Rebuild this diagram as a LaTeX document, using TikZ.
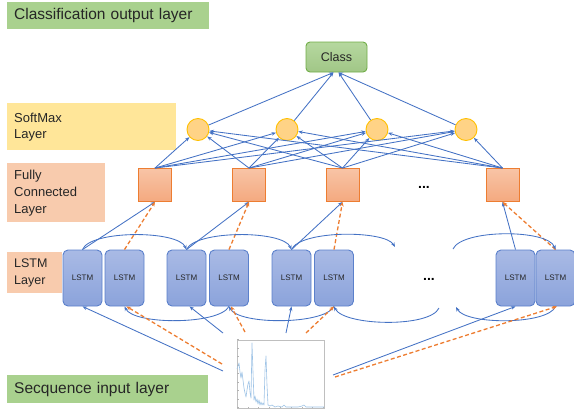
\documentclass[tikz,border=0pt]{standalone}
\usepackage{fontspec}
\setmainfont{Liberation Sans}
\usetikzlibrary{arrows.meta}
\definecolor{lgreen}{HTML}{A9D18E}
\definecolor{dgreen}{HTML}{70AD47}
\definecolor{lyellow}{HTML}{FFE699}
\definecolor{lpeach}{HTML}{F8CBAD}
\definecolor{oline}{HTML}{ED7D31}
\definecolor{bline}{HTML}{4472C4}
\definecolor{cfill}{HTML}{FFD386}
\definecolor{cline}{HTML}{FFC000}
\definecolor{lstmtop}{HTML}{A9BAE5}
\definecolor{lstmbot}{HTML}{8BA3DB}
\definecolor{lstmline}{HTML}{5B80CB}
\definecolor{fctop}{HTML}{F8C4A6}
\definecolor{fcbot}{HTML}{F4A97F}
\definecolor{plotline}{HTML}{9DC3E6}
\tikzset{
  lblbox/.style={anchor=north west, inner xsep=7pt, inner ysep=0pt, align=left, text=black!85},
  lstmbox/.style={draw=lstmline, line width=0.9pt, rounded corners=5pt, top color=lstmtop, bottom color=lstmbot,
     minimum width=39pt, minimum height=56pt, inner sep=0pt, font=\fontsize{8}{9}\selectfont, text=black!85},
  fcbox/.style={draw=oline, line width=0.9pt, top color=fctop, bottom color=fcbot, minimum size=33pt, inner sep=0pt},
  smnode/.style={circle, draw=cline, line width=0.9pt, fill=cfill, minimum size=22pt, inner sep=0pt},
  arr/.style={draw=bline, line width=0.85pt, -{Stealth[length=4.5pt,width=3.5pt]}},
  darr/.style={draw=oline, line width=1.3pt, dash pattern=on 4pt off 2.5pt, -{Stealth[length=4.5pt,width=3.8pt]}},
  dots/.style={font=\bfseries\fontsize{14}{14}\selectfont, inner sep=0pt}
}
\begin{document}
\begin{tikzpicture}[x=1pt,y=-1pt]
\useasboundingbox (0,0) rectangle (574,410);
% layer labels
\node[lblbox, fill=lgreen, minimum height=27pt, text width=188pt, font=\fontsize{15.5}{17}\selectfont] (labout) at (7,2) {Classification output layer};
\node[lblbox, fill=lyellow, minimum height=47pt, text width=155pt, font=\fontsize{13}{16}\selectfont] (labsm) at (7,103) {SoftMax\\Layer};
\node[lblbox, fill=lpeach, minimum height=59pt, text width=84pt, font=\fontsize{13}{17}\selectfont] (labfc) at (7,163) {Fully\\Connected\\Layer};
\node[lblbox, fill=lpeach, minimum height=41pt, text width=41pt, font=\fontsize{12.5}{17}\selectfont] (lablstm) at (7,252) {LSTM\\Layer};
\node[lblbox, fill=lgreen, minimum height=28pt, text width=187pt, font=\fontsize{15.5}{17}\selectfont] (labin) at (7,375) {Secquence input layer};

% class node
\node[draw=dgreen, line width=0.9pt, rounded corners=4pt, top color=lgreen!85!white, bottom color=lgreen!95!black,
      minimum width=61pt, minimum height=30pt, inner sep=0pt, font=\fontsize{12.5}{13}\selectfont, text=black!85] (class) at (336.5,57) {Class};

% softmax
\node[smnode] (s1) at (198,129.5) {};
\node[smnode] (s2) at (287,129.5) {};
\node[smnode] (s3) at (377,129.5) {};
\node[smnode] (s4) at (466,129.5) {};

% fully connected
\node[fcbox] (fc1) at (155,185) {};
\node[fcbox] (fc2) at (249,185) {};
\node[fcbox] (fc3) at (342.5,185) {};
\node[fcbox] (fc4) at (502.5,185) {};
\node[dots] (fcdots) at (424,187) {...};

% LSTM
\node[lstmbox] (l1) at (82.5,278) {LSTM};
\node[lstmbox] (l2) at (124.5,278) {LSTM};
\node[lstmbox] (l3) at (186.5,278) {LSTM};
\node[lstmbox] (l4) at (229,278) {LSTM};
\node[lstmbox] (l5) at (291.5,278) {LSTM};
\node[lstmbox] (l6) at (334,278) {LSTM};
\node[lstmbox] (l7) at (515.5,278) {LSTM};
\node[lstmbox] (l8) at (555.5,278) {LSTM};
\node[dots] (lstmdots) at (429,279) {...};

% input plot
\node[draw=black!25, line width=0.6pt, fill=white, minimum width=87pt, minimum height=68pt, inner sep=0pt] (plot) at (280.5,374) {};
\foreach \t in {0,1,...,8} { \draw[black!30, line width=0.3pt] (237,{407.5-\t*8.5}) -- (238.5,{407.5-\t*8.5}); }
\foreach \t in {0,1,...,8} { \draw[black!30, line width=0.3pt] ({237+\t*10.8},408) -- ({237+\t*10.8},406.5); }
\draw[plotline, line width=0.6pt, line join=round] plot coordinates {
 (237,369) (238,366) (239,363) (240,372) (241,378) (242,372) (243,380) (244,388) (245,393) (246,397)
 (247,390) (248,384) (249,381) (250,392) (251,398) (252,343) (253,372) (254,400) (255,396) (256,402)
 (257,399) (258,404) (259,400) (260,405) (261,402) (262,405) (263,403) (264,405) (265,370) (266,356)
 (267,385) (268,405) (270,406) (272,405) (275,407) (278,406) (282,407) (284,405) (286,407) (292,407)
 (298,407) (302,406) (304,405) (306,407) (324,407)};

% softmax -> class
\draw[arr] (s1) -- ([xshift=-3pt]class.south);
\draw[arr] (s2) -- ([xshift=-3pt]class.south);
\draw[arr] (s3) -- ([xshift=2pt]class.south);
\draw[arr] (s4) -- ([xshift=2pt]class.south);

% fc -> softmax
\foreach \i in {1,2,3,4} {
  \foreach \j in {1,2,3,4} {
    \draw[arr] (fc\i.north) -- (s\j);
  }
}

% lstm -> fc
\draw[arr] (l1.north) -- (fc1.south);
\draw[darr] (l2.north) -- (fc1.south);
\draw[arr] (l3.north) -- (fc2.south);
\draw[darr] (l4.north) -- (fc2.south);
\draw[arr] (l5.north) -- (fc3.south);
\draw[darr] (l6.north) -- (fc3.south);
\draw[arr] (l7.north) -- (fc4.south);
\draw[darr] (l8.north) -- (fc4.south);

% forward arcs (top)
\coordinate (fwdend) at (395,247);
\coordinate (fwdstart) at (453,249);
\draw[arr] (l1.north) .. controls (90,230) and (178,230) .. (l3.north);
\draw[arr] (l3.north) .. controls (195,230) and (283,230) .. (l5.north);
\draw[arr] (l5.north) .. controls (300,230) and (385,230) .. (fwdend);
\draw[arr] (fwdstart) .. controls (462,229) and (548,229) .. (l8.north);

% backward arcs (bottom)
\coordinate (bwdend) at (456,307);
\coordinate (bwdstart) at (439,308);
\draw[arr] (l8.south) .. controls (548,325) and (466,325) .. (bwdend);
\draw[arr] (bwdstart) .. controls (430,328) and (344,326) .. (l6.south);
\draw[arr] (l6.south) .. controls (324,325) and (239,325) .. (l4.south);
\draw[arr] (l4.south) .. controls (219,325) and (134,325) .. (l2.south);

% input -> lstm
\coordinate (in1) at (223,371);
\coordinate (in2) at (222,364);
\coordinate (in3) at (223,333);
\coordinate (in4) at (245,332);
\coordinate (in5) at (286,333);
\coordinate (in6) at (306,333);
\coordinate (in7) at (333,375);
\coordinate (in8) at (335,377);
\draw[arr] (in1) -- (l1.south);
\draw[darr] (in2) -- ([xshift=2pt]l2.south);
\draw[arr] (in3) -- ([xshift=3pt]l3.south);
\draw[darr] (in4) -- ([xshift=2pt]l4.south);
\draw[arr] (in5) -- (l5.south);
\draw[darr] (in6) -- (l6.south);
\draw[arr] (in7) -- (l7.south);
\draw[darr] (in8) -- ([xshift=1.5pt]l8.south);
\end{tikzpicture}
\end{document}
